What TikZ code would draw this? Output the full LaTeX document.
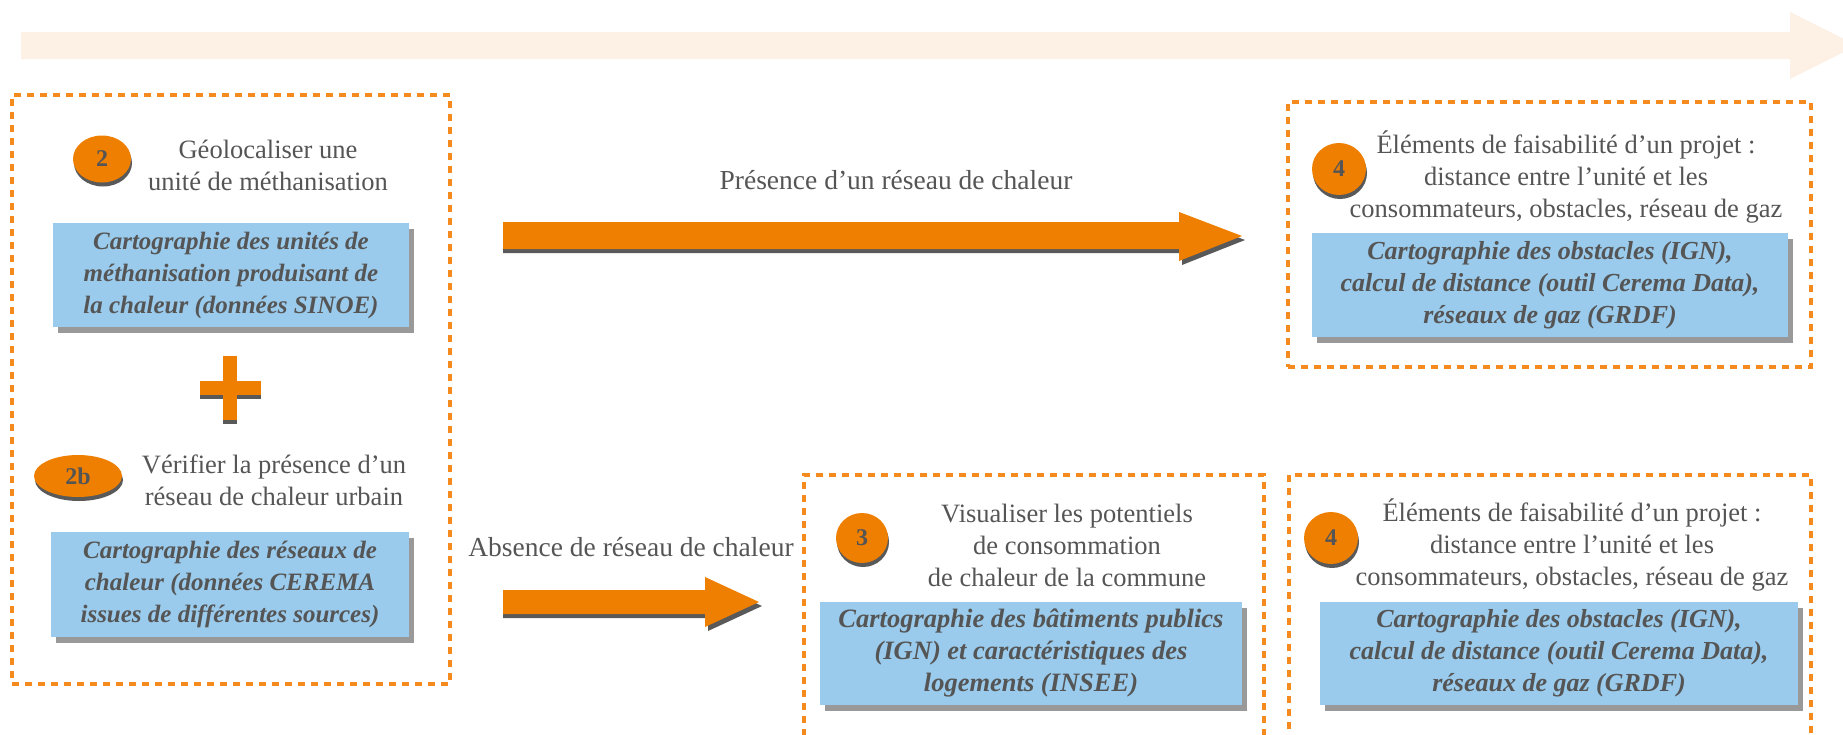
\documentclass[tikz,border=0pt]{standalone}
\usepackage{fontspec}
\setmainfont{Liberation Serif}
\usetikzlibrary{shapes.geometric,shadows}

\definecolor{flowor}{HTML}{EE7F00}
\definecolor{frameor}{HTML}{F58A1F}
\definecolor{databl}{HTML}{9ACBEC}
\definecolor{inkgray}{HTML}{555555}
\definecolor{lightshade}{HTML}{999999}
\definecolor{darkshade}{HTML}{595959}
\definecolor{bannerpeach}{HTML}{FDF0E4}

\tikzset{
  stagebox/.style={draw=frameor, line width=3.5pt, dash pattern=on 7pt off 6pt, inner sep=0pt},
  databox/.style={fill=databl, text=inkgray, align=center, inner sep=0pt,
    font=\fontsize{25}{32}\selectfont\bfseries\itshape,
    drop shadow={fill=lightshade, opacity=1, shadow xshift=5pt, shadow yshift=-6pt}},
  steptext/.style={text=inkgray, align=center, font=\fontsize{26.5}{32}\selectfont},
  stepdisc/.style={ellipse, fill=flowor, text=inkgray, inner sep=0pt,
    font=\fontsize{24}{24}\selectfont\bfseries,
    drop shadow={fill=darkshade, opacity=1, shadow xshift=1pt, shadow yshift=-4pt}},
}

\begin{document}
\begin{tikzpicture}[x=1pt, y=-1pt]
  \clip (0,0) rectangle (1843,734);

  % Banner arrow
  \fill[bannerpeach] (21,32) -- (1790,32) -- (1790,12) -- (1857,45.5) -- (1790,79) -- (1790,59) -- (21,59) -- cycle;

  % Stage frames
  \node[stagebox, minimum width=438pt, minimum height=589pt] (stage2) at (231,389.5) {};
  \node[stagebox, minimum width=523pt, minimum height=265pt] (stage4a) at (1549.5,234.5) {};
  \node[stagebox, minimum width=460pt, minimum height=295pt] (stage3) at (1034,622.5) {};
  \node[stagebox, minimum width=522pt, minimum height=295pt] (stage4b) at (1550,622.5) {};

  % Step 2
  \node[stepdisc, minimum width=58pt, minimum height=47pt] (n2) at (102,159) {2};
  \node[steptext] (t2) at (268,165) {Géolocaliser une\\unité de méthanisation};
  \node[databox, minimum width=356pt, minimum height=104pt] (d2) at (231,275)
    {Cartographie des unités de\\méthanisation produisant de\\la chaleur (données SINOE)};

  % Plus sign
  \fill[darkshade] (200,385) rectangle (261,399);
  \fill[darkshade] (223,360) rectangle (237,424);
  \fill[flowor] (200,381) rectangle (261,395);
  \fill[flowor] (223,356) rectangle (237,420);

  % Step 2b
  \node[stepdisc, minimum width=88pt, minimum height=42pt] (n2b) at (78,476) {2b};
  \node[steptext] (t2b) at (274,480) {Vérifier la présence d’un\\réseau de chaleur urbain};
  \node[databox, minimum width=358pt, minimum height=105pt] (d2b) at (230,584)
    {Cartographie des réseaux de\\chaleur (données CEREMA\\issues de différentes sources)};

  % Presence arrow
  \node[steptext, font=\fontsize{27.5}{32}\selectfont] (lpres) at (896,180) {Présence d’un réseau de chaleur};
  \fill[darkshade] (503,226) -- (1182,226) -- (1182,216) -- (1245,240) -- (1182,265) -- (1182,253) -- (503,253) -- cycle;
  \fill[flowor] (503,222) -- (1179,222) -- (1179,212) -- (1242,236) -- (1179,261) -- (1179,249) -- (503,249) -- cycle;

  % Absence arrow
  \node[steptext, font=\fontsize{27.5}{32}\selectfont] (labs) at (631,547) {Absence de réseau de chaleur};
  \fill[darkshade] (503,594) -- (708,594) -- (708,581) -- (762,606) -- (708,631) -- (708,618) -- (503,618) -- cycle;
  \fill[flowor] (503,590) -- (705,590) -- (705,577) -- (759,602) -- (705,627) -- (705,614) -- (503,614) -- cycle;

  % Step 4 (with network)
  \node[stepdisc, minimum width=54pt, minimum height=52pt] (n4a) at (1339,169) {4};
  \node[steptext] (t4a) at (1566,177) {Éléments de faisabilité d’un projet :\\distance entre l’unité et les\\consommateurs, obstacles, réseau de gaz};
  \node[databox, font=\fontsize{26}{32}\selectfont\bfseries\itshape, minimum width=476pt, minimum height=104pt] (d4a) at (1550,285)
    {Cartographie des obstacles (IGN),\\calcul de distance (outil Cerema Data),\\réseaux de gaz (GRDF)};

  % Step 3
  \node[stepdisc, minimum width=52pt, minimum height=50pt] (n3) at (862,538) {3};
  \node[steptext] (t3) at (1067,545) {Visualiser les potentiels\\de consommation\\de chaleur de la commune};
  \node[databox, font=\fontsize{26.5}{32}\selectfont\bfseries\itshape, minimum width=422pt, minimum height=103pt] (d3) at (1031,653)
    {Cartographie des bâtiments publics\\(IGN) et caractéristiques des\\logements (INSEE)};

  % Step 4 (without network)
  \node[stepdisc, minimum width=54pt, minimum height=52pt] (n4b) at (1331,538) {4};
  \node[steptext] (t4b) at (1572,545) {Éléments de faisabilité d’un projet :\\distance entre l’unité et les\\consommateurs, obstacles, réseau de gaz};
  \node[databox, font=\fontsize{26}{32}\selectfont\bfseries\itshape, minimum width=478pt, minimum height=103pt] (d4b) at (1559,653)
    {Cartographie des obstacles (IGN),\\calcul de distance (outil Cerema Data),\\réseaux de gaz (GRDF)};
\end{tikzpicture}
\end{document}
